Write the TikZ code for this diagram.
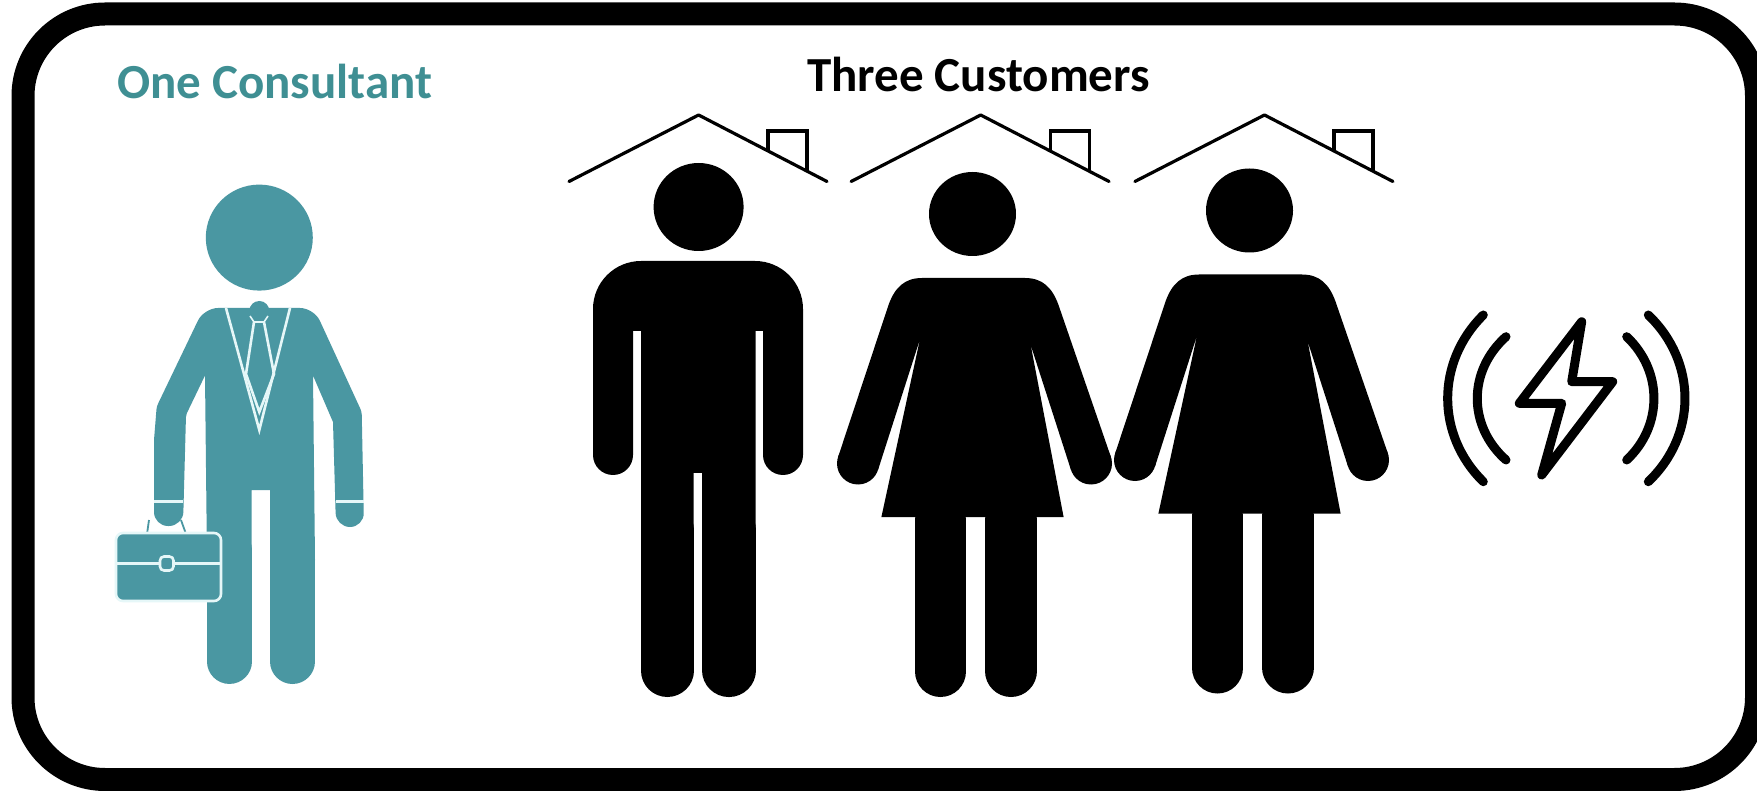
\documentclass[tikz,border=0pt]{standalone}
\usepackage{fontspec}
\setmainfont{Carlito}
\definecolor{teal1}{HTML}{4A97A2}
\definecolor{tealtext}{HTML}{3F8F93}
\definecolor{pale}{HTML}{E6F7F8}
\tikzset{
  x=1pt,y=-1pt,
  frameline/.style={draw=black,line width=23pt,rounded corners=82pt},
  titletext/.style={inner sep=0pt,anchor=base west,font=\fontsize{49}{56}\selectfont\bfseries},
  roofline/.style={draw=black,line width=3.2pt,line join=round,line cap=round},
  chimney/.style={draw=black,line width=3.2pt},
  boltline/.style={draw=black,line width=9pt,line join=round,line cap=round},
  paleline/.style={draw=pale,line width=2.6pt,line join=miter},
  limb/.style={line cap=round},
  roofpic/.pic={
    \draw[roofline] (-129.6,66.5) -- (0,0) -- (128.4,66.5);
    \draw[chimney] (69.4,36) -- (69.4,16) -- (108.4,16) -- (108.4,56);
  },
  womanpic/.pic={
    \fill[black] (972.5,214) ellipse[x radius=43.5pt,y radius=42pt];
    \fill[black] (922,278) -- (1025,278) .. controls (1042,278) and (1052,287) .. (1058.5,305)
      -- (1110.9,457) -- (1071,470) -- (1030.7,345) -- (1063.6,517) -- (881.4,517) -- (920,339)
      -- (878,470) -- (838.1,457) -- (888.5,305) .. controls (895,287) and (905,278) .. (922,278) -- cycle;
    \fill[black] (858,463.5) circle[radius=21pt];
    \fill[black] (1091,463.5) circle[radius=21pt];
    \draw[black,limb,line width=51pt] (940.5,520) -- (940.5,671.5);
    \draw[black,limb,line width=52pt] (1011,520) -- (1011,671);
  }
}
\begin{document}
\begin{tikzpicture}
\useasboundingbox (0,0) rectangle (1757,791);
\clip (0,0) rectangle (1757,791);
\fill[white] (0,0) rectangle (1757,791);
\draw[frameline] (23,14) rectangle (1756.5,779.5);

\node[titletext,text=tealtext] (consultanttitle) at (117,98.5) {One Consultant};
\node[titletext,text=black] (customerstitle) at (807,92) {Three Customers};

% consultant
\fill[teal1] (259.3,237.6) ellipse[x radius=53.5pt,y radius=53pt];
\fill[teal1,rounded corners=14pt] (259,308) -- (204,308) [rounded corners=3pt] -- (156.7,406.5) -- (154,440)
  [rounded corners=14pt] -- (154,526) -- (183,526) [rounded corners=2pt] -- (186,415) [sharp corners] -- (205,375.5)
  -- (207,560) -- (251.7,560) -- (251.7,490) -- (270,490) -- (270,560) -- (315,560) -- (313,375.5) -- (333,422)
  [rounded corners=14pt] -- (336,527) -- (364,527) [rounded corners=3pt] -- (361.7,411.7)
  [rounded corners=14pt] -- (314,308) [sharp corners] -- cycle;
\draw[teal1,limb,line width=44.7pt] (229.4,550) -- (229.4,661.6);
\draw[teal1,limb,line width=45pt] (292.5,550) -- (292.5,661.5);
\draw[paleline] (154,501.5) -- (183,501.5);
\draw[paleline] (336,501.5) -- (364,501.5);
\draw[paleline] (226,308) -- (259.3,430) -- (290,308);
\draw[paleline] (254,322) -- (246,374) -- (259.3,412) -- (274,374) -- (264,322);
\fill[teal1] (259.3,311) circle[radius=10pt];
\draw[pale,line width=1.6pt] (250,316) -- (254,322) -- (264,322) -- (268,316);
\draw[teal1,line width=1.8pt] (149,520) -- (147,534);
\draw[teal1,line width=1.8pt] (181,520) -- (186,534);
\draw[pale,line width=2.6pt,fill=teal1,rounded corners=7pt] (116,533) rectangle (221,601);
\draw[pale,line width=2.4pt] (116,563.4) -- (221,563.4);
\draw[pale,line width=2.6pt,fill=teal1,rounded corners=4pt] (160,556.5) rectangle (173.5,570.5);

% man with roof
\pic at (698.6,115) {roofpic};
\fill[black] (698.6,207) ellipse[x radius=45pt,y radius=44pt];
\fill[black,rounded corners=48pt] (698,261) -- (803,261) [rounded corners=20pt] -- (803,360)
  -- (803,475) -- (763,475) [sharp corners] -- (763,331) -- (755.7,331)
  -- (755.7,530) -- (702,530) -- (702,473) -- (693.6,473) -- (693.6,530) -- (641,530) -- (641,331) -- (633,331)
  [rounded corners=20pt] -- (633,475) -- (593,475) -- (593,360) [rounded corners=48pt] -- (593,261) [sharp corners] -- cycle;
\draw[black,limb,line width=52.6pt] (667.3,530) -- (667.3,670.7);
\draw[black,limb,line width=53.7pt] (728.85,530) -- (728.85,670.2);

% woman 2 and 3 with roofs
\pic at (980.7,115) {roofpic};
\pic at (1264.5,115) {roofpic};
\pic at (0,0) {womanpic};
\pic at (277,-3.5) {womanpic};

% bolt and waves
\draw[boltline] (1581.7,321.7) -- (1519.3,403.3) -- (1561.7,403.3) -- (1541.7,475) -- (1612.7,381.7) -- (1571.7,381.7) -- cycle;
\draw[boltline] (1483.3,315) .. controls (1435.8,362) and (1435.8,435) .. (1483.3,481.7);
\draw[boltline] (1506,336.7) .. controls (1467.7,371) and (1467.7,426) .. (1506,460);
\draw[boltline] (1626.7,336.7) .. controls (1663,371) and (1663,426) .. (1626.7,460);
\draw[boltline] (1648.3,315) .. controls (1697.2,362) and (1697.2,435) .. (1648.3,481.7);
\end{tikzpicture}
\end{document}
